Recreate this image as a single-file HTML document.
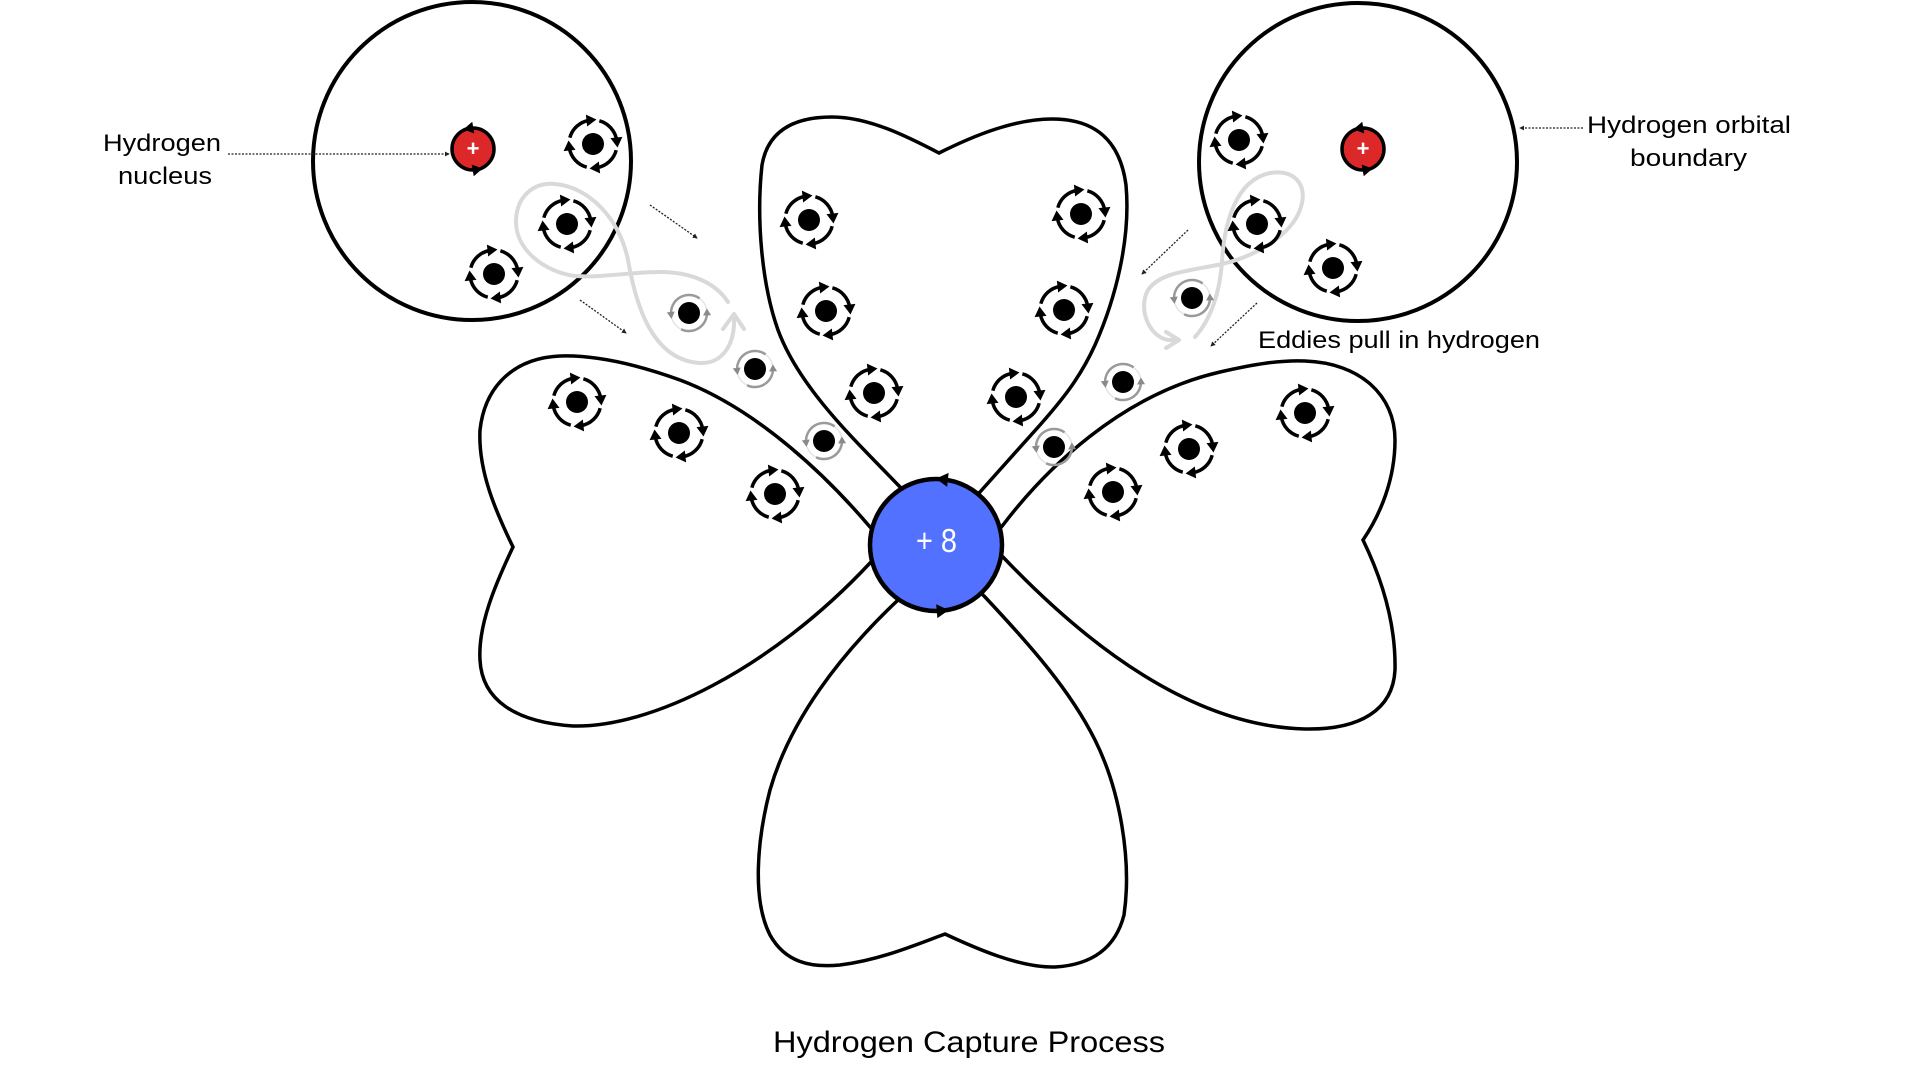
<!DOCTYPE html>
<html>
<head>
<meta charset="utf-8">
<style>
html,body{margin:0;padding:0;background:#fff;}
svg{display:block;}
text{font-family:"Liberation Sans",sans-serif;fill:#000;}
</style>
</head>
<body>
<svg width="1920" height="1080" viewBox="0 0 1920 1080" xmlns="http://www.w3.org/2000/svg">
<defs>
  <g id="e">
    <circle r="24" fill="none" stroke="#000" stroke-width="3.5" stroke-dasharray="27.2 10.5" stroke-dashoffset="-6.28"/>
    <polygon points="6,0 -4,-6 -4,6" fill="#000" transform="rotate(84) translate(24,0) rotate(90)"/>
    <polygon points="6,0 -4,-6 -4,6" fill="#000" transform="rotate(174) translate(24,0) rotate(90)"/>
    <polygon points="6,0 -4,-6 -4,6" fill="#000" transform="rotate(264) translate(24,0) rotate(90)"/>
    <polygon points="6,0 -4,-6 -4,6" fill="#000" transform="rotate(354) translate(24,0) rotate(90)"/>
    <circle r="11" fill="#000"/>
  </g>
  <g id="g">
    <circle r="18" fill="none" stroke="#e4e4e4" stroke-width="1.5"/>
    <path d="M10.6,-14.6 A18,18 0 0 0 -17.7,3.1" fill="none" stroke="#9a9a9a" stroke-width="2.5"/>
    <path d="M-7.9,16.2 A18,18 0 0 0 17.9,1.6" fill="none" stroke="#9a9a9a" stroke-width="2.5"/>
    <polygon points="4,0 -3,-4 -3,4" fill="#8a8a8a" transform="rotate(174) translate(18,0) rotate(-90)"/>
    <polygon points="4,0 -3,-4 -3,4" fill="#8a8a8a" transform="rotate(-2) translate(18,0) rotate(-90)"/>
    <circle r="11" fill="#000"/>
  </g>
  <marker id="ah" viewBox="0 0 6 6" refX="5" refY="3" markerWidth="5" markerHeight="5" markerUnits="userSpaceOnUse" orient="auto">
    <path d="M0,0 L6,3 L0,6 z" fill="#222"/>
  </marker>
</defs>

<!-- big hydrogen orbital circles -->
<circle cx="472" cy="161" r="159" fill="none" stroke="#000" stroke-width="4"/>
<circle cx="1358" cy="162" r="159" fill="none" stroke="#000" stroke-width="4"/>

<!-- lobes -->
<g fill="none" stroke="#000" stroke-width="3.5" stroke-linejoin="miter">
  <!-- top lobe -->
  <path d="M915 503 L900 487 C860 445 800 390 778 330 C762 285 756 220 762 165 C768 130 795 117 832 117 C870 117 910 138 939 153 C975 135 1015 119 1052 119 C1095 119 1120 140 1126 185 C1131 240 1115 300 1095 345 C1080 378 1062 400 1040 425 L980 492 L965 508"/>
  <!-- left lobe -->
  <path d="M882 540 L870 527 C830 480 760 410 680 380 C630 362 590 355 560 356 C515 358 485 385 480 430 C478 470 495 510 513 547 C495 585 478 625 480 660 C482 700 515 722 573 726 C650 728 770 670 870 563 L882 551"/>
  <!-- right lobe -->
  <path d="M990 540 L1003 525 C1045 470 1120 395 1220 372 C1255 364 1280 360 1305 361 C1360 363 1395 395 1395 440 C1395 480 1380 515 1363 540 C1380 575 1396 620 1395 670 C1393 710 1360 730 1305 729 C1220 727 1120 680 1003 557 L990 548"/>
  <!-- bottom lobe -->
  <path d="M908 590 L897 601 C840 655 790 720 770 790 C757 840 752 900 770 935 C785 962 810 968 840 965 C880 960 915 945 945 934 C975 948 1020 968 1055 967 C1090 965 1115 950 1124 915 C1132 860 1120 790 1095 740 C1070 690 1030 645 985 597 L975 587"/>
</g>

<!-- figure-eight eddies -->
<g fill="none" stroke="#d9d9d9" stroke-width="4" stroke-linecap="round" stroke-linejoin="round">
  <path d="M728 302 C715 282 690 272 660 272 C630 272 600 278 575 276 C545 272 515 250 516 220 C517 195 535 182 555 184 C590 187 620 220 628 260 C635 300 650 360 700 363 C722 364 735 345 734 318"/>
  <polyline points="723,329 734,314 744,329"/>
  <path d="M1195 337 C1212 318 1220 290 1222 262 C1224 225 1235 180 1270 173 C1295 169 1306 185 1302 203 C1296 232 1260 255 1222 264 C1190 271 1160 272 1148 290 C1138 308 1148 336 1168 340 L1177 340"/>
  <polyline points="1166,332 1179,340 1166,348"/>
</g>

<!-- dotted pointer lines -->
<g fill="none" stroke="#222" stroke-width="1.3" stroke-dasharray="2 1.5">
  <line x1="228" y1="154" x2="449" y2="154" marker-end="url(#ah)"/>
  <line x1="1583" y1="128" x2="1520" y2="128" marker-end="url(#ah)"/>
  <line x1="650" y1="205" x2="697" y2="238" marker-end="url(#ah)"/>
  <line x1="580" y1="300" x2="626" y2="333" marker-end="url(#ah)"/>
  <line x1="1188" y1="230" x2="1142" y2="274" marker-end="url(#ah)"/>
  <line x1="1257" y1="303" x2="1211" y2="346" marker-end="url(#ah)"/>
</g>

<!-- red hydrogen nuclei -->
<g>
  <circle cx="473" cy="149" r="21" fill="#dc2828" stroke="#000" stroke-width="3.5"/>
  <polygon points="6,0 -4,-6 -4,6" fill="#000" transform="translate(473 149) rotate(-100) translate(21,0) rotate(-90)"/>
  <polygon points="6,0 -4,-6 -4,6" fill="#000" transform="translate(473 149) rotate(80) translate(21,0) rotate(-90)"/>
  <text x="473" y="156" font-size="22" font-weight="bold" text-anchor="middle" style="fill:#fff">+</text>
</g>
<g>
  <circle cx="1363" cy="149" r="21" fill="#dc2828" stroke="#000" stroke-width="3.5"/>
  <polygon points="6,0 -4,-6 -4,6" fill="#000" transform="translate(1363 149) rotate(-100) translate(21,0) rotate(-90)"/>
  <polygon points="6,0 -4,-6 -4,6" fill="#000" transform="translate(1363 149) rotate(80) translate(21,0) rotate(-90)"/>
  <text x="1363" y="156" font-size="22" font-weight="bold" text-anchor="middle" style="fill:#fff">+</text>
</g>

<!-- black electrons with dashed rotation rings -->
<use href="#e" x="593" y="144"/>
<use href="#e" x="567" y="224"/>
<use href="#e" x="494" y="274"/>
<use href="#e" x="1239" y="140"/>
<use href="#e" x="1257" y="224"/>
<use href="#e" x="1333" y="268"/>
<use href="#e" x="809" y="220"/>
<use href="#e" x="1081" y="214"/>
<use href="#e" x="826" y="311"/>
<use href="#e" x="1064" y="310"/>
<use href="#e" x="874" y="393"/>
<use href="#e" x="1016" y="397"/>
<use href="#e" x="577" y="402"/>
<use href="#e" x="679" y="433"/>
<use href="#e" x="775" y="494"/>
<use href="#e" x="1113" y="492"/>
<use href="#e" x="1189" y="449"/>
<use href="#e" x="1305" y="413"/>

<!-- moving electrons (gray rings) -->
<use href="#g" x="689" y="313"/>
<use href="#g" x="755" y="369"/>
<use href="#g" x="824" y="441"/>
<use href="#g" x="1192" y="298"/>
<use href="#g" x="1123" y="382"/>
<use href="#g" x="1054" y="447"/>

<!-- central +8 nucleus -->
<circle cx="936" cy="545" r="66" fill="#5271ff" stroke="#000" stroke-width="4.5"/>
<polygon points="7,0 -5,-7 -5,7" fill="#000" transform="translate(936 545) rotate(-84) translate(66,0) rotate(-90)"/>
<polygon points="7,0 -5,-7 -5,7" fill="#000" transform="translate(936 545) rotate(85) translate(66,0) rotate(-90)"/>
<text x="916" y="552" font-size="33" textLength="41" lengthAdjust="spacingAndGlyphs" style="fill:#fff">+ 8</text>

<!-- labels -->
<text x="103" y="151" font-size="24" textLength="118" lengthAdjust="spacingAndGlyphs">Hydrogen</text>
<text x="118" y="184" font-size="24" textLength="94" lengthAdjust="spacingAndGlyphs">nucleus</text>
<text x="1587" y="133" font-size="24" textLength="204" lengthAdjust="spacingAndGlyphs">Hydrogen orbital</text>
<text x="1630" y="166" font-size="24" textLength="117" lengthAdjust="spacingAndGlyphs">boundary</text>
<text x="1258" y="348" font-size="24" textLength="282" lengthAdjust="spacingAndGlyphs">Eddies pull in hydrogen</text>
<text x="773" y="1052" font-size="30" textLength="392" lengthAdjust="spacingAndGlyphs">Hydrogen Capture Process</text>
</svg>
</body>
</html>
